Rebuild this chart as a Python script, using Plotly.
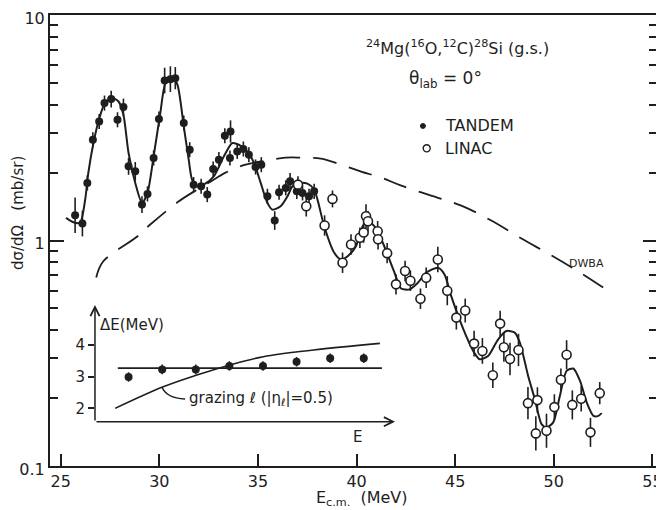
import plotly.graph_objects as go

INK = "#1e1e1e"
FONT = "DejaVu Sans"

# ---------------- data (main panel) ----------------
tandem_E = [25.73, 26.10, 26.35, 26.63, 26.95, 27.22, 27.56, 27.88, 28.18, 28.44,
            28.78, 29.12, 29.40, 29.71, 29.98, 30.27, 30.56, 30.81, 31.24, 31.54,
            31.74, 32.12, 32.43, 32.73, 33.02, 33.32, 33.61, 33.58, 33.95, 34.26,
            34.54, 34.88, 35.17, 35.48, 35.85, 36.07, 36.41, 36.63, 36.97, 37.26,
            37.59, 37.85]
tandem_xs = [1.294, 1.189, 1.800, 2.798, 3.373, 4.068, 4.236, 3.431, 3.906, 2.132,
             2.026, 1.443, 1.609, 2.322, 3.456, 5.122, 5.195, 5.248, 3.318, 2.527,
             1.769, 1.739, 1.598, 2.076, 2.283, 2.914, 3.044, 2.322, 2.484, 2.545,
             2.402, 2.119, 2.169, 1.570, 1.226, 1.636, 1.711, 1.830, 1.652, 1.626,
             1.570, 1.652]
tandem_err_pct = [20, 14, 8, 8, 8, 8, 9, 8, 9, 9,
                  10, 9, 8, 8, 8, 14, 14, 12, 8, 8,
                  8, 8, 8, 8, 8, 8, 12, 8, 8, 8,
                  8, 8, 8, 8, 10, 8, 8, 9, 8, 8,
                  8, 8]

linac_E = [37.03, 37.45, 38.38, 38.78, 39.29, 39.72, 40.17, 40.36, 40.48, 40.58,
           41.07, 41.09, 41.55, 42.00, 42.46, 42.73, 43.24, 43.53, 44.12, 44.60,
           45.06, 45.51, 45.96, 46.38, 46.91, 47.28, 47.47, 47.78, 48.21, 48.69,
           49.17, 49.09, 49.63, 50.03, 50.36, 50.65, 50.94, 51.39, 51.86, 52.33]
linac_xs = [1.769, 1.418, 1.165, 1.529, 0.797, 0.960, 1.028, 1.085, 1.281, 1.217,
            1.099, 1.013, 0.879, 0.639, 0.732, 0.663, 0.552, 0.684, 0.824, 0.599,
            0.455, 0.489, 0.349, 0.3238, 0.2527, 0.428, 0.336, 0.2984, 0.327, 0.190,
            0.196, 0.1395, 0.1433, 0.1825, 0.2414, 0.3114, 0.1866, 0.1987, 0.141, 0.2104]
linac_err_pct = [9, 11, 11, 9, 11, 11, 11, 11, 13, 11,
                 11, 11, 11, 11, 11, 11, 11, 11, 14, 16,
                 13, 13, 14, 14, 14, 14, 16, 18, 18, 18,
                 14, 19, 19, 14, 12, 16, 16, 14, 16, 12]

fit_E = [25.27, 25.64, 25.98, 26.24, 26.40, 26.66, 26.96, 27.25, 27.59, 27.93,
         28.18, 28.44, 28.78, 29.12, 29.40, 29.71, 30.05, 30.31, 30.65, 30.92,
         31.24, 31.49, 31.66, 31.92, 32.25, 32.76, 33.27, 33.70, 34.03, 34.46,
         34.80, 35.14, 35.48, 35.73, 36.15, 36.50, 36.75, 37.09, 37.51, 37.85,
         38.02, 38.36, 38.87, 39.21, 39.55, 39.97, 40.31, 40.56, 40.90, 41.33,
         41.90, 42.26, 42.68, 43.11, 43.53, 44.13, 44.46, 44.80, 45.22, 45.56,
         45.96, 46.24, 46.67, 47.18, 47.60, 48.02, 48.28, 48.70, 49.04, 49.38,
         49.63, 49.97, 50.31, 50.65, 50.99, 51.33, 51.67, 52.01, 52.26, 52.43]
fit_xs = [1.260, 1.205, 1.198, 1.518, 1.993, 2.705, 3.491, 4.092, 4.280, 4.135,
          3.610, 2.443, 1.800, 1.468, 1.626, 2.360, 3.673, 4.988, 5.333, 4.902,
          3.206, 2.283, 1.862, 1.739, 1.769, 1.925, 2.360, 2.705, 2.659, 2.484,
          2.207, 1.800, 1.468, 1.371, 1.418, 1.570, 1.739, 1.800, 1.787, 1.682,
          1.518, 1.157, 0.882, 0.824, 0.852, 0.944, 1.157, 1.217, 1.157, 0.977,
          0.729, 0.613, 0.607, 0.650, 0.720, 0.757, 0.707, 0.567, 0.447, 0.377,
          0.3185, 0.2976, 0.3076, 0.3648, 0.3969, 0.3905, 0.3526, 0.2509, 0.1979, 0.1534,
          0.1483, 0.1561, 0.2047, 0.2641, 0.2706, 0.2384, 0.1913, 0.1669, 0.1669, 0.1716]

dwba_E = [26.80, 27.15, 28.88, 29.54, 30.97, 31.83, 32.59, 33.36, 34.37, 35.39,
          36.41, 37.17, 38.19, 39.21, 40.23, 41.25, 42.27, 43.78, 45.31, 46.83,
          48.36, 49.89, 51.41, 52.79]
dwba_xs = [0.686, 0.807, 1.041, 1.177, 1.488, 1.664, 1.824, 2.000, 2.169, 2.259,
           2.330, 2.330, 2.306, 2.169, 2.020, 1.900, 1.751, 1.582, 1.428, 1.226,
           1.020, 0.858, 0.714, 0.595]

x_ticks = [25, 30, 35, 40, 45, 50, 55]

# ---------------- data (inset) ----------------
inset_step = [1, 2, 3, 4, 5, 6, 7, 8]
inset_dE = [2.99, 3.23, 3.23, 3.34, 3.34, 3.47, 3.58, 3.58]
inset_dE_err = [0.15, 0.15, 0.15, 0.15, 0.15, 0.15, 0.15, 0.15]
inset_const_x = [0.68, 8.54]
inset_const_dE = [3.27, 3.27]
grazing_x = [0.6, 2.03, 3.03, 4.02, 5.01, 6.5, 8.48]
grazing_dE = [2.0, 2.68, 3.05, 3.37, 3.63, 3.84, 4.05]
inset_yticks = [2, 3, 4]


def up(vals, pct):
    return [v * p / 100.0 for v, p in zip(vals, pct)]


def down(vals, pct):
    return [v * (1 - 1 / (1 + p / 100.0)) for v, p in zip(vals, pct)]


fig = go.Figure()

fig.add_trace(go.Scatter(x=dwba_E, y=dwba_xs, mode="lines",
                         line=dict(color=INK, width=1.8, dash="24px,13px", shape="spline"),
                         hoverinfo="skip"))
fig.add_trace(go.Scatter(x=fit_E, y=fit_xs, mode="lines",
                         line=dict(color=INK, width=2, shape="spline", smoothing=0.7),
                         hoverinfo="skip"))
fig.add_trace(go.Scatter(x=tandem_E, y=tandem_xs, mode="markers", name="TANDEM",
                         marker=dict(symbol="circle", size=8, color=INK),
                         error_y=dict(type="data", symmetric=False,
                                      array=up(tandem_xs, tandem_err_pct),
                                      arrayminus=down(tandem_xs, tandem_err_pct),
                                      width=0, thickness=1.6, color=INK)))
fig.add_trace(go.Scatter(x=linac_E, y=linac_xs, mode="markers", name="LINAC",
                         marker=dict(symbol="circle", size=9, color="white",
                                     line=dict(color=INK, width=1.6)),
                         error_y=dict(type="data", symmetric=False,
                                      array=up(linac_xs, linac_err_pct),
                                      arrayminus=down(linac_xs, linac_err_pct),
                                      width=0, thickness=1.6, color=INK)))

# inset
fig.add_trace(go.Scatter(x=inset_const_x, y=inset_const_dE, mode="lines",
                         line=dict(color=INK, width=1.6), xaxis="x2", yaxis="y2"))
fig.add_trace(go.Scatter(x=grazing_x, y=grazing_dE, mode="lines",
                         line=dict(color=INK, width=1.6, shape="spline"),
                         xaxis="x2", yaxis="y2"))
fig.add_trace(go.Scatter(x=inset_step, y=inset_dE, mode="markers",
                         marker=dict(symbol="circle", size=8, color=INK),
                         error_y=dict(type="data", array=inset_dE_err, width=0,
                                      thickness=1.5, color=INK),
                         xaxis="x2", yaxis="y2"))

tf = dict(family=FONT, size=16, color=INK)

# page body adds an 8px offset; the figure is sized so nothing overflows the window
fig.update_layout(
    width=656, height=502,
    margin=dict(l=42, r=7, t=7, b=44, autoexpand=False),
    paper_bgcolor="white", plot_bgcolor="white",
    showlegend=False,
    font=dict(family=FONT, color=INK),
    xaxis=dict(range=[24.457, 55.233], tickvals=x_ticks, ticks="inside", ticklen=12,
               tickwidth=1.8, tickcolor=INK, showline=True, linewidth=2, linecolor=INK,
               mirror=True, showgrid=False, zeroline=False, tickfont=tf,
               automargin=False, ticklabeloverflow="allow"),
    yaxis=dict(type="log", range=[-1, 1], dtick=1, ticks="inside", ticklen=14,
               tickwidth=1.8, tickcolor=INK, showline=True, linewidth=2, linecolor=INK,
               mirror="allticks", showgrid=False, zeroline=False, tickfont=tf,
               automargin=False, ticklabeloverflow="allow", ticklabelshift=3,
               minor=dict(ticks="inside", ticklen=8, tickwidth=1.5, tickcolor=INK,
                          dtick="D1", showgrid=False)),
    xaxis2=dict(domain=[0.0741, 0.5684], anchor="y2", range=[0, 8.93], showline=False,
                showticklabels=False, ticks="", showgrid=False, zeroline=False,
                automargin=False),
    yaxis2=dict(domain=[0.0982, 0.357], anchor="x2", range=[1.58, 5.26],
                tickvals=inset_yticks, ticks="outside", ticklen=6, tickwidth=1.5,
                tickcolor=INK, showline=False, showgrid=False, zeroline=False,
                automargin=False,
                tickfont=dict(family=FONT, size=15, color=INK)),
)


def label(x, y, text, size=16, xanchor="center", angle=0):
    return dict(x=x, y=y, xref="paper", yref="paper", text=text, showarrow=False,
                xanchor=xanchor, yanchor="middle", textangle=angle,
                font=dict(family=FONT, size=size, color=INK))


ann = []
# inset axes drawn as arrows
ann.append(dict(x=0.5684, y=0.0982, xref="paper", yref="paper", ax=-300, ay=0,
                text="", showarrow=True, arrowhead=5, arrowsize=1.2, arrowwidth=1.5,
                arrowcolor=INK))
ann.append(dict(x=0.0741, y=0.357, xref="paper", yref="paper", ax=0, ay=117,
                text="", showarrow=True, arrowhead=5, arrowsize=1.2, arrowwidth=1.5,
                arrowcolor=INK))
ann.append(label(0.079, 0.3126, "ΔE(MeV)", 15, "left"))
ann.append(label(0.507, 0.064, "E", 15))
ann.append(label(0.225, 0.150, "grazing ℓ (|η<sub>ℓ</sub>|=0.5)", 15, "left"))
# titles / legend
ann.append(label(0.672, 0.927,
                 "<sup>24</sup>Mg(<sup>16</sup>O,<sup>12</sup>C)<sup>28</sup>Si (g.s.)", 16))
ann.append(label(0.651, 0.856, "θ<sub>lab</sub> = 0°", 17))
ann.append(label(0.6474, 0.7539, "TANDEM", 16, "left"))
ann.append(label(0.6474, 0.7044, "LINAC", 16, "left"))
ann.append(label(0.884, 0.450, "DWBA", 11))
# axis titles
ann.append(label(0.514, -0.073, "E<sub>c.m.</sub>  (MeV)", 16))
ann.append(label(-0.0527, 0.561, "dσ/dΩ   (mb/sr)", 15, "center", -90))
fig.update_layout(annotations=ann)

shapes = [
    # legend symbols
    dict(type="circle", xref="paper", yref="paper", x0=0.6103, x1=0.6185,
         y0=0.7484, y1=0.7594, fillcolor=INK, line=dict(color=INK, width=1)),
    dict(type="circle", xref="paper", yref="paper", x0=0.6148, x1=0.6264,
         y0=0.6966, y1=0.7122, fillcolor="white", line=dict(color=INK, width=1.4)),
    # leader line for the grazing label
    dict(type="path", xref="paper", yref="paper",
         path="M 0.1845,0.1752 Q 0.1911,0.1508 0.2225,0.1486",
         line=dict(color=INK, width=1.4)),
]
fig.update_layout(shapes=shapes)

fig.write_html("out.html")
